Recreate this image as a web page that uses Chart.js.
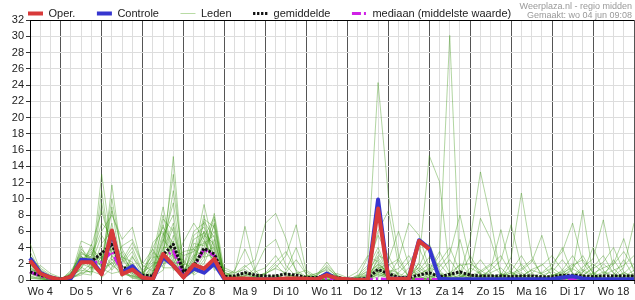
<!DOCTYPE html>
<html>
<head>
<meta charset="utf-8">
<title>Neerslag pluim regio midden</title>
<script src="https://cdn.jsdelivr.net/npm/chart.js@4.4.0/dist/chart.umd.min.js"></script>
<style>
  html, body { margin: 0; padding: 0; background: #fff; }
  #wrap { width: 635px; height: 300px; }
</style>
</head>
<body>
<div id="wrap"><canvas id="pluimChart" width="635" height="300"></canvas></div>
<script>
// tick labels: one per day, data every 6 hours (Wo 4 06:00 .. Do 19 00:00)
const days = ['Wo 4', 'Do 5', 'Vr 6', 'Za 7', 'Zo 8', 'Ma 9', 'Di 10', 'Wo 11',
              'Do 12', 'Vr 13', 'Za 14', 'Zo 15', 'Ma 16', 'Di 17', 'Wo 18', 'Do 19'];
const hours = ['00:00', '06:00', '12:00', '18:00'];
const stampLines = ['Weerplaza.nl - regio midden', 'Gemaakt: wo 04 jun 09:08'];

// neerslag in mm per 6 uur
const oper = [2.4,0.8,0.3,0.05, 0.4,2.2,2.2,0.7, 6.1,0.7,1.3,0.3, 0.1,3.2,1.8,0.3,
              1.9,1.4,2.6,0.2, 0.15,0.2,0.1,0.1, 0.1,0.2,0.2,0.15, 0.1,0.6,0.2,0.1,
              0,0.05,8.8,0.2, 0.15,0.2,4.8,3.8, null,null,null,null, null,null,null,null,
              null,null,null,null, null,null,null,null, null,null,null,null];
const controle = [2.7,0.9,0.3,0, 0.2,2.5,2.4,0.8, 5.9,0.9,1.7,0.3, 0.1,2.8,1.8,0.4,
                  1.4,0.9,2.0,0.1, 0.05,0.1,0.05,0.05, 0.05,0.1,0.1,0.05, 0.05,0.8,0.1,0.05,
                  0,0.05,9.9,0.2, 0.15,0.2,4.9,3.9, 0.15,0.1,0.1,0.1, 0.1,0.1,0.1,0.1,
                  0.1,0.1,0.1,0.1, 0.3,0.45,0.2,0.1, 0.1,0.1,0.1,0.1];
const gemiddelde = [1.0,0.6,0.3,0.1, 0.5,2.2,2.3,3.3, 4.4,1.5,1.4,0.6, 0.5,3.1,4.4,1.0,
                    1.7,3.9,3.2,0.4, 0.5,0.9,0.6,0.5, 0.5,0.75,0.6,0.3, 0.3,0.65,0.3,0.1,
                    0.1,0.2,1.3,0.8, 0.3,0.3,0.6,0.9, 0.4,0.7,1.0,0.6, 0.5,0.5,0.5,0.4,
                    0.5,0.5,0.4,0.4, 0.6,0.6,0.5,0.4, 0.5,0.5,0.5,0.5];
const mediaan = [1.0,0.5,0.2,0, 0.3,2.2,2.2,2.2, 3.5,1.0,1.2,0.3, 0.2,2.7,3.6,0.6,
                 1.5,3.8,3.0,0.1, 0.05,0.1,0.05,0.05, 0.05,0.05,0.05,0.05, 0.05,0.1,0.05,0.05,
                 0.05,0.05,0.15,0.05, 0.05,0.05,0.05,0.05, 0.05,0.05,0.05,0.05, 0.05,0.05,0.05,0.05,
                 0.05,0.05,0.05,0.05, 0.05,0.05,0.05,0.05, 0.05,0.05,0.05,0.05];
const leden = [
  [4.5,1.2,0.3,0, 0.3,2.0,1.5,13.0, 4.0,1.0,0.5,0.2, 1.0,4.0,4.0,1.0, 2.0,6.0,3.0,0.3,
   0.1,0.3,0,0, 0.2,0,0,0, 0,0.4,0,0, 0,0,0.8,0.5, 2.5,0.3,0,0,
   0,0.2,0.6,3.0, 0.8,0,0,0.3, 2.0,0.4,0,0, 0.5,1.2,8.6,0.6, 0,0,0.3,0],
  [1.5,0.8,0.2,0, 0.8,3.5,2.5,1.0, 11.7,2.5,1.0,0.1, 0.5,2.5,15.2,0.5, 3.0,3.5,4.0,0.5,
   0.2,0,0,0, 0,0,0.3,0.5, 0.8,1.6,0.4,0, 0,0.2,1.0,0.4, 0,0.6,2.0,0.5,
   0,0,0.4,1.0, 7.6,5.0,0.8,0, 0,0,0.3,0, 0,0,0.4,0.2, 0,0.6,0,0],
  [2.0,0.6,0.1,0, 0.2,1.5,3.0,6.0, 8.0,5.0,6.5,1.5, 3.0,9.0,3.0,0.2, 1.0,3.0,8.2,1.0,
   0.3,0.5,1.0,1.5, 3.0,1.2,4.0,0.6, 0,0,0,0, 0.3,0.6,1.5,0.2, 0,0,2.2,15.3,
   12.1,1.0,0,0, 0.3,0,0,0, 0,0.4,0,0.6, 1.0,2.0,0.5,0, 0,0,0.2,0],
  [0.8,0.3,0,0, 0.5,4.8,4.2,8.5, 4.0,1.5,2.0,0.5, 4.6,6.0,2.0,4.7, 7.0,5.0,2.0,0.2,
   0,0.2,0.4,0, 0,0,0,0.2, 0.4,0.8,0.2,0, 0.6,1.8,5.5,3.0, 0.5,0,0,0.4,
   0.8,0,0,0, 0.5,0.9,1.5,0.2, 0,0,0,0, 0.3,0.6,0,0.8, 1.5,2.0,5.1,1.0],
  [1.2,1.0,0.5,0.1, 1.0,2.5,1.8,2.0, 9.0,0.5,1.5,0.3, 0.2,3.5,11.0,2.0, 1.5,7.5,6.5,0.4,
   1.0,6.6,1.2,0, 0,0.3,0.5,0, 0,0,0,0, 0,0,0.4,0.8, 0.3,0,0,0.6,
   0.9,0.4,2.0,0.6, 0,0,0,0, 0.5,1.2,0.8,1.5, 4.0,0.7,0,0, 0.4,2.5,0.6,0],
  [0.5,0.2,0,0, 0.1,1.8,3.5,1.5, 2.0,3.5,0.8,0, 1.5,5.0,3.5,0.8, 4.0,4.5,5.5,0.1,
   0,0,0,0.3, 0.6,0.2,0,0, 0,0.5,0.8,0.3, 1.0,3.0,2.2,0.5, 0.2,1.5,0.4,0,
   0,0,0.6,5.0, 13.3,7.5,0.4,0, 0,0,0,0.2, 0.8,0.3,0,0, 0,0.3,0.9,0.4],
  [3.0,1.5,0.6,0.2, 0.4,2.8,2.2,0.5, 3.0,2.0,3.5,0.8, 2.2,2.0,2.5,0.3, 2.5,8.0,1.5,0.6,
   0.4,1.0,0.5,0.8, 1.4,0.9,2.5,0.7, 0.2,0,0,0, 0,0.4,1.2,0.6, 0.8,0.3,1.6,4.5,
   1.2,0,5.0,0.3, 0.6,0,0,0.5, 0.9,0.2,0,1.5, 0.6,0,0.9,4.0, 1.2,0,0,0.6],
  [1.8,0.5,0.2,0, 0.6,1.2,1.0,4.5, 6.0,1.2,0.4,0.1, 0.8,7.5,6.0,1.5, 0.8,2.5,7.0,0.2,
   0,0.3,0,0, 0.4,0.9,0.3,0, 0.5,1.8,0.6,0, 0,0,2.8,0.9, 0,0.4,0.8,1.3,
   3.5,0.8,0,0, 0,1.4,6.2,1.0, 0.3,0,0,0, 0,0.4,1.3,0.5, 0,0.4,0.8,2.0],
  [0.3,0.1,0,0, 0.2,3.2,2.8,0.3, 1.5,4.2,5.0,2.0, 3.8,1.5,1.5,0.1, 5.5,6.5,3.5,0.8,
   0.5,1.6,2.5,7.0, 8.2,5.1,1.0,0.2, 0,0,0,0, 0,0.5,1.8,0.3, 0,0,0,0.2,
   0.6,0.3,0,0, 0.4,0.7,0.2,2.0, 0.6,0,0,0, 0,0,0.3,0.9, 0.4,0,0,0],
  [2.5,0.9,0.4,0.1, 0.3,0.8,0.6,9.5, 3.0,0.8,1.0,0.2, 0.3,4.5,13.0,0.6, 1.8,3.5,2.5,0.1,
   0.2,0,0,0, 0,0.4,0.8,1.2, 0.4,0.3,0,0, 0.2,1.2,6.0,8.5, 1.8,0.5,0,0,
   0,0.5,1.2,0.3, 0,0,0.5,0.8, 1.4,2.5,0.7,0, 0,0,0.5,1.6, 3.0,0.8,0,0],
  [1.0,0.4,0.1,0, 0.7,2.2,4.0,2.5, 10.0,2.8,2.2,0.4, 2.8,3.0,3.8,3.0, 3.5,5.5,4.5,1.2,
   0.8,1.8,0.6,0, 0,0,0,0, 0.3,1.0,0.2,0, 0.4,1.5,4.0,1.1, 0.5,0.2,0,0,
   0.3,0.9,1.8,2.0, 1.2,0.4,0,0, 0,0,0.6,1.0, 2.5,0.9,0,0, 0,0.5,1.5,7.0],
  [0.6,1.8,0.8,0.3, 0.2,1.0,2.0,1.2, 4.5,1.0,0.3,0, 0.6,5.5,8.0,0.4, 2.2,4.0,6.0,0.3,
   0,0,0.3,0.7, 1.9,0.6,0,0, 0.6,2.2,0.5,0, 0,0,0.9,1.8, 2.6,7.0,5.5,1.4,
   0.2,0,0,0, 0,0.3,0.8,0.4, 0,0,0,0.4, 1.2,3.0,1.1,0.3, 0,0,0,0.5],
  [2.2,0.7,0.3,0, 0.9,3.0,1.2,11.0, 2.5,2.2,4.0,1.0, 1.8,2.8,2.2,1.8, 6.0,7.0,2.8,0.5,
   1.2,3.8,0.9,0.2, 0,0,0.3,0, 0,0.6,0.3,0, 0,0.3,2.5,0.6, 0,0,0.3,1.0,
   2.2,4.0,1.0,0, 0,0,0.6,2.8, 10.7,3.0,0.4,0, 0,0.6,0.2,0, 0,0,0.4,0.8],
  [1.4,0.6,0.2,0, 0.4,2.6,3.2,2.0, 7.0,0.6,1.8,0.3, 4.0,6.5,4.5,0.2, 1.2,2.0,5.0,0.2,
   0,0.4,0.2,0.8, 1.5,3.0,6.8,1.0, 0.2,0,0,0, 0.2,0.6,3.5,0.8, 0.3,0,0,0.8,
   2.0,0.5,0,0, 0.2,0.6,0,0, 0.3,0.8,2.0,0.6, 0,0,0,0.4, 1.0,0.6,2.5,0.4],
  [0.9,0.3,0,0, 0.1,1.6,0.8,3.0, 1.2,3.0,1.2,0.6, 0.4,1.2,5.5,1.2, 3.2,9.3,3.8,0.7,
   0.3,0.6,0.2,0, 0,0,0,0.3, 0.8,1.2,0.2,0, 0,0,1.4,2.0, 0.6,0,0.4,1.2,
   3.0,30.1,0.5,0.2, 0,0,0,0.3, 0.6,0,0,0, 0.5,1.4,0.6,0, 0,0.3,0.7,0],
  [3.5,1.1,0.4,0.1, 0.6,3.8,2.6,1.8, 5.0,1.8,0.6,0.2, 1.2,4.8,9.5,0.7, 4.5,4.2,7.5,0.4,
   0.2,0.5,1.4,4.0, 5.0,1.8,0.4,0, 0,0.2,0,0, 0,0,0.7,0.3, 0,0.8,1.5,0.6,
   0,0,0.3,0.9, 2.5,0.8,0,0, 0,0,0.2,0.5, 0.9,1.5,3.0,0.8, 0,0,0,0.3],
  [0.4,0.2,0,0, 0.3,0.6,1.6,0.8, 2.2,0.4,2.8,1.2, 2.5,8.0,2.8,2.5, 0.6,1.5,2.2,0.1,
   0,0,0,0.2, 0.5,0.2,0,0, 0,0,0,0, 0.2,2.8,24.3,10.5, 3.0,0.4,0,0,
   0,0.4,0.8,0.2, 0,0,0.4,0.9, 0.3,0,0,0, 0.6,0.2,0,0.5, 2.0,0.9,0,0],
  [1.6,0.5,0.1,0, 1.2,2.9,2.0,5.5, 3.5,1.4,0.8,0.1, 0.9,3.8,7.0,0.9, 2.8,6.0,4.2,0.9,
   0.6,0.3,0,0, 0.3,0.7,0.4,0.2, 0.6,1.4,0.5,0, 0,0.2,1.0,0.4, 0,0,0.6,1.5,
   1.0,2.5,0.7,0, 0,0,0.3,0.6, 1.2,2.2,5.5,1.1, 0.3,0,0,0, 0.6,1.2,1.8,3.0],
  [2.8,1.3,0.5,0.2, 0.5,1.9,3.8,2.2, 8.5,3.8,1.6,0.7, 3.4,2.2,3.2,0.1, 1.6,3.2,6.8,0.3,
   0,0,0.2,0.6, 0.3,0,0,0, 0,0.3,0.2,0, 0.5,1.0,3.0,2.4, 6.0,1.8,0.4,0,
   0,0,0.4,0.7, 0.3,0,0.6,1.1, 3.0,0.9,0,0, 0,0.5,1.6,2.6, 7.4,1.4,0.2,0],
  [0.7,0.4,0.2,0, 0.2,4.2,1.4,3.5, 1.8,0.9,3.0,0.4, 1.6,5.8,1.2,1.6, 5.0,5.8,1.2,1.5,
   0.9,1.3,0.4,0, 0,0,0.2,0.5, 0.3,0,0,0, 0,0.3,1.6,1.2, 0.9,2.2,4.0,1.0,
   0.2,0,0,0.5, 1.1,2.0,0.7,0, 0,0.4,0.9,2.0, 3.5,7.0,2.2,0.4, 0,0,0.3,0.6],
  [1.9,0.8,0.3,0.1, 0.8,2.4,2.9,7.0, 5.5,2.6,1.4,0.9, 0.2,3.2,6.5,0.3, 2.0,7.2,5.2,0.2,
   0,0,0.3,0.9, 2.2,3.5,1.2,0.4, 0,0,0,0, 0,0.4,1.3,0.5, 0,0.6,1.2,2.8,
   1.6,3.2,8.0,2.4, 0.6,0,0,0, 0.2,0.6,0.3,0, 0.7,1.8,2.5,0.9, 0,0,0.4,1.2],
  [1.1,0.6,0.1,0, 0.3,1.4,4.4,1.4, 0.8,1.1,0.2,0, 2.0,6.8,2.6,3.5, 3.8,2.8,3.2,0.6,
   0.3,0.8,0.2,0, 0,0,0,0, 0.2,0.9,0.4,0, 0,0.6,2.0,0.9, 0.2,0,0,0.3,
   0.7,0.2,0,1.5, 0.8,0.2,0,0, 0.4,1.3,1.8,3.0, 1.2,0,0,0.2, 0.8,1.9,3.5,1.4],
  [2.4,0.9,0.3,0, 0.5,3.4,2.4,2.8, 3.8,2.4,4.6,1.8, 1.1,1.8,4.8,0.4, 2.6,5.2,7.8,0.2,
   0.4,0.9,0.3,0, 0,0.2,0.9,0.3, 0,0.5,0.2,0, 0.3,0.8,1.9,1.0, 1.4,3.0,1.1,0.2,
   0,0,0,0.4, 0.9,1.8,3.0,0.8, 0,0,0.2,0.7, 0.4,0,0.6,1.4, 2.2,4.0,1.0,0.2],
  [0.2,0.1,0,0, 0.1,0.9,1.1,0.6, 2.6,0.7,0.5,0.1, 0.5,2.6,1.8,1.1, 1.1,4.8,2.6,0.1,
   0,0.2,0.5,0.3, 0,0,0,0, 0,0.4,0,0, 0,0.2,0.6,0.3, 0,0.4,1.0,2.0,
   0.8,0,0,0, 0.5,1.2,2.4,6.8, 1.6,0.2,0,0, 0.3,0.6,1.0,2.0, 0.9,0,0,0]
];

const operColor = '#d83a3a';
const controleColor = '#3636cf';
const mediaanColor = '#d020e6';
const ledenColor = 'rgba(60, 150, 20, 0.4)';

// category per 6-hour step
const times = [];
days.forEach((day, d) => {
  hours.forEach((hour, h) => {
    if (d === 0 && h === 0) return;
    if (d === days.length - 1 && h > 0) return;
    times.push(day + ' ' + hour);
  });
});
const isDayStart = (i) => times[i].endsWith('00:00');

function serie(label, data, color, width, dash) {
  return {
    label: label,
    data: data,
    borderColor: color,
    backgroundColor: color,
    borderWidth: width,
    borderDash: dash,
    borderJoinStyle: 'round',
    pointRadius: 0,
    tension: 0,
    fill: false
  };
}

// first dataset is drawn on top
const datasets = [
  serie('Oper.', oper, operColor, 4, []),
  serie('Controle', controle, controleColor, 4, []),
  serie('gemiddelde', gemiddelde, '#111', 3, [2.5, 1.5]),
  serie('mediaan (middelste waarde)', mediaan, mediaanColor, 3, [9, 3, 2, 3])
];
leden.forEach((lid, n) => {
  const ds = serie('Lid ' + (n + 1), lid, ledenColor, 1, []);
  ds.borderJoinStyle = 'miter';
  datasets.push(ds);
});

const legendEntries = [
  { text: 'Oper.', color: operColor, width: 4, dash: [] },
  { text: 'Controle', color: controleColor, width: 4, dash: [] },
  { text: 'Leden', color: '#b8dba4', width: 1, dash: [] },
  { text: 'gemiddelde', color: '#111', width: 3, dash: [2.3, 1.7] },
  { text: 'mediaan (middelste waarde)', color: mediaanColor, width: 3, dash: [9, 3, 2, 3] }
];

// keep the legend a thin strip above the plot
const legendFit = {
  id: 'legendFit',
  beforeLayout(chart) {
    const legend = chart.legend;
    if (!legend || legend._fitPatched) return;
    const fit = legend.fit;
    legend.fit = function () {
      fit.call(this);
      this.height = 33.5;
    };
    legend._fitPatched = true;
  }
};

const stamp = {
  id: 'stamp',
  afterDraw(chart) {
    const ctx = chart.ctx;
    ctx.save();
    ctx.font = '9px "Liberation Sans", Arial, sans-serif';
    ctx.fillStyle = '#999';
    ctx.textAlign = 'right';
    ctx.textBaseline = 'middle';
    ctx.fillText(stampLines[0], chart.width - 3, 6.5);
    ctx.fillText(stampLines[1], chart.width - 3, 15.5);
    ctx.restore();
  }
};

Chart.defaults.font.family = '"Liberation Sans", Arial, sans-serif';
Chart.defaults.font.size = 11;
Chart.defaults.color = '#222';

new Chart(document.getElementById('pluimChart'), {
  type: 'line',
  data: { labels: times, datasets: datasets },
  plugins: [legendFit, stamp],
  options: {
    responsive: false,
    devicePixelRatio: 1,
    animation: false,
    events: [],
    layout: { padding: { top: -13.5, left: 6.5, right: 1, bottom: 0 } },
    plugins: {
      tooltip: { enabled: false },
      legend: {
        position: 'top',
        align: 'start',
        labels: {
          usePointStyle: true,
          pointStyleWidth: 15,
          padding: 21.5,
          font: { size: 11 },
          color: '#222',
          generateLabels: () => legendEntries.map((e) => ({
            text: e.text,
            fillStyle: e.color,
            strokeStyle: e.color,
            lineWidth: e.width,
            lineDash: e.dash,
            lineCap: 'butt',
            pointStyle: 'line',
            fontColor: '#222',
            hidden: false
          }))
        }
      }
    },
    scales: {
      x: {
        type: 'category',
        offset: false,
        afterFit: (scale) => { scale.height = 20; },
        grid: {
          color: (c) => isDayStart(c.index) ? '#555' : '#dddddd',
          tickColor: (c) => isDayStart(c.index) ? '#555' : 'rgba(0,0,0,0)',
          tickLength: 4,
          lineWidth: 1
        },
        border: { display: true, color: '#000' },
        ticks: {
          autoSkip: false,
          maxRotation: 0,
          minRotation: 0,
          padding: 1,
          font: { size: 11 },
          color: '#222',
          callback: (value) => {
            const t = times[value];
            return t.endsWith('12:00') ? t.slice(0, -6) : '';
          }
        }
      },
      y: {
        min: 0,
        max: 32,
        afterFit: (scale) => { scale.width = 23.5; },
        grid: {
          color: (c) => c.tick.value === 32 ? '#000' : '#dddddd',
          tickColor: '#333',
          tickLength: 4
        },
        border: { display: true, color: '#000' },
        ticks: {
          stepSize: 2,
          maxTicksLimit: 40,
          padding: 2,
          font: { size: 11 },
          color: '#222'
        }
      }
    }
  }
});
</script>
</body>
</html>
